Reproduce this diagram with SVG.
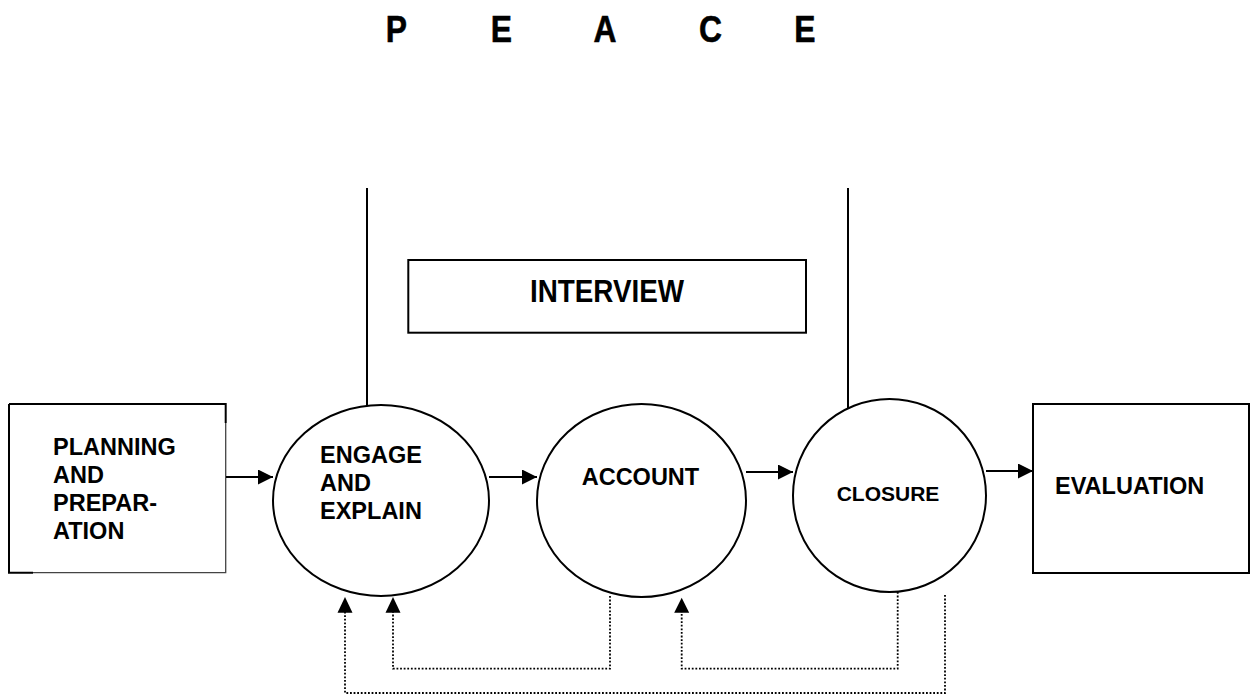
<svg xmlns="http://www.w3.org/2000/svg" width="1255" height="697" viewBox="0 0 1255 697">
<style>
.lbl{font-family:"Liberation Sans",Arial,sans-serif;font-weight:bold;fill:#000}
.shape{fill:#fff;stroke:#000;stroke-width:2}
.arr{fill:none;stroke:#000;stroke-width:2}
.dot{fill:none;stroke:#000;stroke-width:1.8;stroke-dasharray:1.8 1.8}
</style>
<defs>
<marker id="ah" markerWidth="16" markerHeight="15" refX="15" refY="7.5" orient="auto" markerUnits="userSpaceOnUse">
<path d="M0,0 L15,7.5 L0,15 Z" fill="#000"/>
</marker>
</defs>
<rect width="1255" height="697" fill="#fff"/>
<g id="title">
<g transform="scale(0.86,1)">
<text class="lbl" font-size="37" text-anchor="middle" y="41.7" stroke="#000" stroke-width="0.6"><tspan x="461">P</tspan><tspan x="583.1">E</tspan><tspan x="703.5">A</tspan><tspan x="826.2">C</tspan><tspan x="936">E</tspan></text>
</g>
</g>
<g id="interview">
<rect class="shape" x="408.3" y="260" width="397.7" height="72.7"/>
<text class="lbl" font-size="31" x="530" y="301.7" textLength="154" lengthAdjust="spacingAndGlyphs">INTERVIEW</text>
</g>
<g id="planning">
<rect x="9" y="404" width="216.7" height="168.7" fill="#fff"/>
<path d="M9,404 H225.7 V423 M9,404 V572.7 H33" fill="none" stroke="#000" stroke-width="2"/>
<path d="M225.7,423 V572.7 H33" fill="none" stroke="#444" stroke-width="1.3"/>
<text class="lbl" font-size="23.5" x="53"><tspan x="53" y="455">PLANNING</tspan><tspan x="53" y="483">AND</tspan><tspan x="53" y="511">PREPAR-</tspan><tspan x="53" y="539">ATION</tspan></text>
</g>
<g id="engage">
<ellipse class="shape" cx="381" cy="500.5" rx="108" ry="95.5"/>
<text class="lbl" font-size="23.5"><tspan x="320" y="462.7">ENGAGE</tspan><tspan x="320" y="490.7">AND</tspan><tspan x="320" y="518.7">EXPLAIN</tspan></text>
</g>
<g id="account">
<ellipse class="shape" cx="641.5" cy="500.5" rx="104.5" ry="96.5"/>
<text class="lbl" font-size="23.5" x="581.7" y="485">ACCOUNT</text>
</g>
<g id="closure">
<ellipse class="shape" cx="889.5" cy="495.5" rx="96.5" ry="96.5"/>
<text class="lbl" font-size="21" x="836.7" y="500.7">CLOSURE</text>
</g>
<g id="evaluation">
<rect class="shape" x="1033" y="404" width="216" height="169"/>
<text class="lbl" font-size="23.5" x="1055" y="494">EVALUATION</text>
</g>
<g id="connectors">
<line class="arr" x1="367" y1="188" x2="367" y2="405"/>
<line class="arr" x1="848" y1="188" x2="848" y2="408"/>
<line class="arr" x1="226" y1="477" x2="273" y2="477" marker-end="url(#ah)"/>
<line class="arr" x1="489" y1="477" x2="537" y2="477" marker-end="url(#ah)"/>
<line class="arr" x1="746" y1="472" x2="793" y2="472" marker-end="url(#ah)"/>
<line class="arr" x1="986" y1="471" x2="1033" y2="471" marker-end="url(#ah)"/>
<path class="dot" d="M610,596 V668.7 H393 V612"/>
<path class="dot" d="M897.7,592 V668.7 H681.7 V612"/>
<path class="dot" d="M945,595 V693 H345 V612"/>
<path d="M393,597 L400.5,612.7 L385.5,612.7 Z" fill="#000"/>
<path d="M681.7,597.7 L689.2,612.7 L674.2,612.7 Z" fill="#000"/>
<path d="M345,597 L352.5,612.7 L337.5,612.7 Z" fill="#000"/>
</g>
</svg>
